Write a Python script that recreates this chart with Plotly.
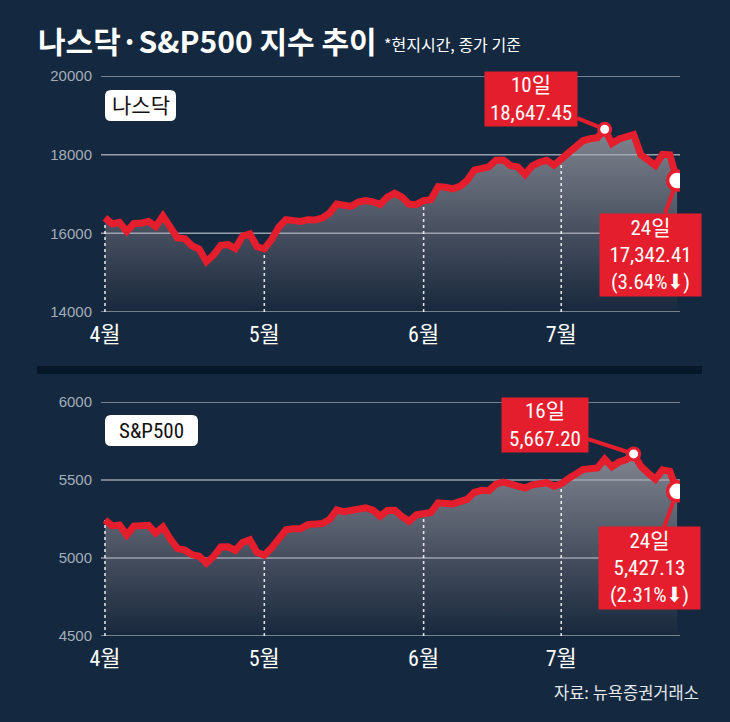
import plotly.graph_objects as go

# ---------------- data ----------------
dates = (
    ["04-01","04-02","04-03","04-04","04-05","04-08","04-09","04-10","04-11","04-12",
     "04-15","04-16","04-17","04-18","04-19","04-22","04-23","04-24","04-25","04-26",
     "04-29","04-30"] +
    ["05-01","05-02","05-03","05-06","05-07","05-08","05-09","05-10","05-13","05-14",
     "05-15","05-16","05-17","05-20","05-21","05-22","05-23","05-24","05-28","05-29",
     "05-30","05-31"] +
    ["06-03","06-04","06-05","06-06","06-07","06-10","06-11","06-12","06-13","06-14",
     "06-17","06-18","06-20","06-21","06-24","06-25","06-26","06-27","06-28"] +
    ["07-01","07-02","07-03","07-05","07-08","07-09","07-10","07-11","07-12","07-15",
     "07-16","07-17","07-18","07-19","07-22","07-23","07-24"]
)

nasdaq = [
    16396.83,16240.45,16277.46,16049.08,16248.52,16253.96,16306.64,16170.36,16442.20,16175.09,
    15885.02,15865.25,15683.37,15601.50,15282.01,15451.31,15696.64,15712.75,15611.76,15927.90,
    15983.08,15657.82,
    15605.48,15840.96,16156.33,16349.25,16332.56,16302.76,16346.26,16340.87,16388.24,16511.18,
    16742.39,16698.32,16685.97,16794.87,16832.62,16801.54,16736.03,16920.79,17019.88,16920.58,
    16737.08,16735.02,
    16828.67,16857.05,17187.90,17173.12,17133.13,17192.53,17343.55,17608.44,17667.56,17688.88,
    17857.02,17862.23,17721.59,17689.36,17496.82,17717.65,17805.16,17858.68,17732.60,
    17879.30,18028.76,18188.30,18352.76,18403.74,18429.29,18647.45,18283.41,18398.45,18472.57,
    18509.34,17996.92,17871.22,17726.94,18007.57,17997.35,17342.41,
]

sp500 = [
    5243.77,5205.81,5211.49,5147.21,5204.34,5202.39,5209.91,5160.64,5199.06,5123.41,
    5061.82,5051.41,5022.21,5011.12,4967.23,5010.60,5070.55,5071.63,5048.42,5099.96,
    5116.17,5035.69,
    5018.39,5064.20,5127.79,5180.74,5187.70,5187.67,5214.08,5222.68,5221.42,5246.68,
    5308.15,5297.10,5303.27,5308.13,5321.41,5307.01,5267.84,5304.72,5306.04,5266.95,
    5235.48,5277.51,
    5283.40,5291.34,5354.03,5352.96,5346.99,5360.79,5375.32,5421.03,5433.74,5431.60,
    5473.23,5487.03,5473.17,5464.62,5447.87,5469.30,5477.90,5482.87,5460.48,
    5475.09,5509.01,5537.02,5567.19,5572.85,5576.98,5633.91,5584.54,5615.35,5631.22,
    5667.20,5588.27,5544.59,5505.00,5564.41,5555.74,5427.13,
]

month_ticks = ["04-01", "05-01", "06-03", "07-01"]
month_labels = ["4월", "5월", "6월", "7월"]
nasdaq_yticks = [14000, 16000, 18000, 20000]
sp_yticks = [4500, 5000, 5500, 6000]
panel_names = ["나스닥", "S&P500"]

# ---------------- style ----------------
W, H = 730, 722
BG = "#14293f"
RED = "#e41e2d"
GRID = "rgba(165,172,184,0.9)"
NARROW = "Liberation Sans Narrow, Roboto Condensed, DejaVu Sans Condensed, Noto Sans CJK KR, sans-serif"
KR = "Noto Sans CJK KR, sans-serif"

def px(x):
    return x / W

def py(y):
    return 1 - y / H

def rounded_rect(x0, y0, x1, y1, r):
    X0, X1 = px(x0), px(x1)
    Y0, Y1 = py(y0), py(y1)
    rx, ry = r / W, r / H
    return (f"M {X0+rx},{Y0} L {X1-rx},{Y0} Q {X1},{Y0} {X1},{Y0-ry} "
            f"L {X1},{Y1+ry} Q {X1},{Y1} {X1-rx},{Y1} L {X0+rx},{Y1} "
            f"Q {X0},{Y1} {X0},{Y1+ry} L {X0},{Y0-ry} Q {X0},{Y0} {X0+rx},{Y0} Z")

xi = list(range(len(dates)))
xrange = [-0.55, len(dates) - 0.6]
month_idx = [dates.index(d) for d in month_ticks]

fig = go.Figure()

panels = [
    dict(vals=nasdaq, ticks=nasdaq_yticks, xa="x", ya="y", name=panel_names[0],
         peak_off=(-74, -30), end_off=(-27, 74), peak_wh=(88, 50), end_wh=(97, 78),
         label_box=(105, 90, 176, 121)),
    dict(vals=sp500, ticks=sp_yticks, xa="x2", ya="y2", name=panel_names[1],
         peak_off=(-89, -29), end_off=(-28, 77), peak_wh=(82, 50), end_wh=(97, 78),
         label_box=(105, 415, 198, 446)),
]

annotations = []
shapes = []
for p in panels:
    vals, ticks = p["vals"], p["ticks"]
    ymin, ymax = min(ticks), max(ticks)
    xa, ya = p["xa"], p["ya"]
    fig.add_trace(go.Scatter(x=xi, y=[ymin] * len(xi), mode="lines",
                             line=dict(width=0), xaxis=xa, yaxis=ya,
                             hoverinfo="skip", showlegend=False))
    fig.add_trace(go.Scatter(x=xi, y=vals, mode="lines", line=dict(width=0),
                             fill="tonexty",
                             fillgradient=dict(type="vertical", start=ymin, stop=max(vals),
                                               colorscale=[[0, "rgb(24,40,60)"],
                                                           [0.45, "rgb(72,80,96)"],
                                                           [1, "rgb(128,132,143)"]]),
                             xaxis=xa, yaxis=ya, hoverinfo="skip", showlegend=False))
    for t in ticks:
        fig.add_trace(go.Scatter(x=xrange, y=[t, t], mode="lines",
                                 line=dict(color=GRID, width=1.5),
                                 xaxis=xa, yaxis=ya, hoverinfo="skip", showlegend=False))
    for i in month_idx:
        fig.add_trace(go.Scatter(x=[i, i], y=[ymin, vals[i]], mode="lines",
                                 line=dict(color="rgba(255,255,255,0.85)", width=1.6, dash="dot"),
                                 xaxis=xa, yaxis=ya, hoverinfo="skip", showlegend=False))
    fig.add_trace(go.Scatter(x=xi, y=vals, mode="lines",
                             line=dict(color=RED, width=7),
                             xaxis=xa, yaxis=ya, showlegend=False))
    ip = vals.index(max(vals))
    il = len(vals) - 1
    fig.add_trace(go.Scatter(x=[ip], y=[vals[ip]], mode="markers",
                             marker=dict(size=12, color="white", line=dict(color=RED, width=3)),
                             xaxis=xa, yaxis=ya, showlegend=False))
    fig.add_trace(go.Scatter(x=[il], y=[vals[il]], mode="markers",
                             marker=dict(size=19, color="white", line=dict(color=RED, width=3.5)),
                             xaxis=xa, yaxis=ya, showlegend=False))
    peak_day = int(dates[ip].split("-")[1])
    last_day = int(dates[il].split("-")[1])
    pct = (1 - vals[il] / vals[il - 1]) * 100
    annotations.append(dict(
        x=ip, y=vals[ip], xref=xa, yref=ya,
        text=f"{peak_day}일<br>{vals[ip]:,.2f}",
        showarrow=True, arrowhead=0, arrowwidth=4, arrowcolor=RED, standoff=7,
        ax=p["peak_off"][0], ay=p["peak_off"][1],
        bgcolor=RED, borderpad=2, width=p["peak_wh"][0], height=p["peak_wh"][1],
        font=dict(family=NARROW, size=21, color="white")))
    annotations.append(dict(
        x=il, y=vals[il], xref=xa, yref=ya,
        text=f"{last_day}일<br>{vals[il]:,.2f}<br>({pct:.2f}%⬇)",
        showarrow=True, arrowhead=0, arrowwidth=4, arrowcolor=RED, standoff=9,
        ax=p["end_off"][0], ay=p["end_off"][1],
        bgcolor=RED, borderpad=2, width=p["end_wh"][0], height=p["end_wh"][1],
        font=dict(family=NARROW, size=21, color="white")))
    bx0, by0, bx1, by1 = p["label_box"]
    shapes.append(dict(type="path", xref="paper", yref="paper",
                       path=rounded_rect(bx0, by0, bx1, by1, 6),
                       fillcolor="white", line=dict(width=0), layer="above"))
    annotations.append(dict(
        x=px((bx0 + bx1) / 2), y=py((by0 + by1) / 2), xref="paper", yref="paper",
        showarrow=False, text=p["name"], xanchor="center", yanchor="middle",
        font=dict(family=NARROW, size=21, color="#111111")))

annotations.append(dict(x=px(36), y=py(40), xref="paper", yref="paper", showarrow=False,
                        xanchor="left", yanchor="middle",
                        text="<b>나스닥·S&P500 지수 추이</b>",
                        font=dict(family=KR, size=30, color="white")))
annotations.append(dict(x=px(382), y=py(44), xref="paper", yref="paper", showarrow=False,
                        xanchor="left", yanchor="middle",
                        text="*현지시간, 종가 기준",
                        font=dict(family=KR, size=16, color="white")))
annotations.append(dict(x=px(701), y=py(692), xref="paper", yref="paper", showarrow=False,
                        xanchor="right", yanchor="middle",
                        text="자료: 뉴욕증권거래소",
                        font=dict(family=KR, size=16.5, color="#e6e9ee")))

shapes.append(dict(type="rect", xref="paper", yref="paper",
                   x0=px(37), x1=px(702), y0=py(374), y1=py(366),
                   fillcolor="#06172a", line=dict(width=0), layer="below"))

xdom = [px(101), px(680)]
common_x = dict(range=xrange, domain=xdom, showgrid=False, zeroline=False, automargin=False,
                showline=False, ticks="", tickmode="array", tickvals=month_idx,
                ticktext=month_labels, ticklabelstandoff=7,
                tickfont=dict(family=NARROW, size=22, color="white"))

def yaxis(ticks, dom, anchor):
    return dict(range=[min(ticks), max(ticks)], domain=dom, tickmode="array", tickvals=ticks,
                ticktext=[str(t) for t in ticks], automargin=False,
                showgrid=False, zeroline=False, showline=False,
                ticks="", ticklabelstandoff=8, anchor=anchor,
                tickfont=dict(family="Liberation Sans, Arial, sans-serif", size=15, color="#a3adba"))

fig.update_layout(
    width=W, height=H,
    margin=dict(l=0, r=0, t=0, b=0, pad=0, autoexpand=False),
    paper_bgcolor=BG, plot_bgcolor="rgba(0,0,0,0)",
    xaxis=dict(common_x, anchor="y"),
    yaxis=yaxis(nasdaq_yticks, [py(312), py(76)], "x"),
    xaxis2=dict(common_x, anchor="y2"),
    yaxis2=yaxis(sp_yticks, [py(636), py(402)], "x2"),
    annotations=annotations,
    shapes=shapes,
    showlegend=False,
)

fig.write_html("out.html", config={"displayModeBar": False},
               post_script="document.body.style.margin='0';document.body.style.overflow='hidden';")
